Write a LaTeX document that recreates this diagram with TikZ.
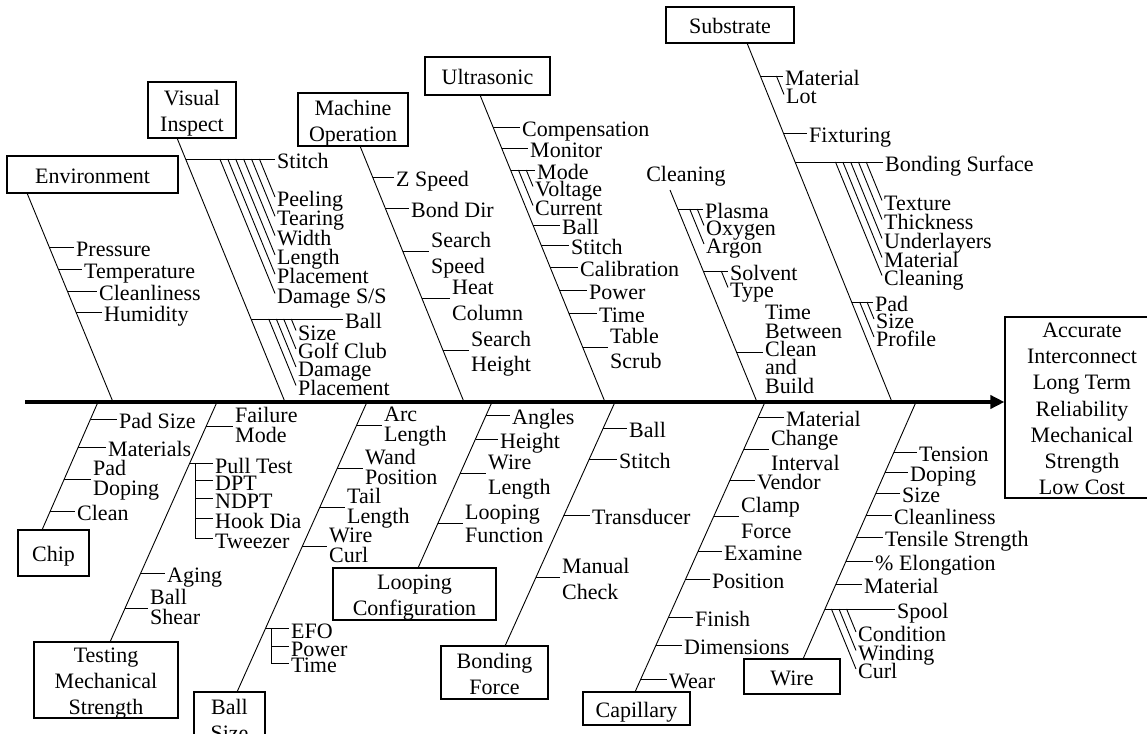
\documentclass[tikz,border=0pt]{standalone}
\usepackage{fontspec}
\setmainfont{Liberation Serif}
\usetikzlibrary{arrows.meta,calc}
\newcommand\brtick[2]{\draw[br] let \p1=(#1T), \p2=(#1B), \p3=(#2.west) in ({\x1+((\y3-(\y1))/(\y2-(\y1)))*(\x2-(\x1))},\y3) -- (\p3);}
\newcommand\brslant[2]{\draw[br] let \p1=(#1.west), \p2=(#2.west) in (\p1) -- ({\x1-0.41*(\y2-(\y1))},\y2);}
\begin{document}
\begin{tikzpicture}[x=1pt,y=-1pt,
  br/.style={line width=0.9pt},
  box/.style={draw, line width=1.1pt, inner sep=0pt, align=center, font={\fontsize{22pt}{26pt}\selectfont}, text height=17pt, text depth=0pt},
  lab/.style={anchor=west, inner xsep=2pt, inner ysep=0pt, font={\fontsize{22pt}{22pt}\selectfont}, text height=19pt, text depth=0pt},
  ml/.style 2 args={lab, align=left, font={\fontsize{22pt}{#1pt}\selectfont}, text height=#2pt},
]
\useasboundingbox (0,0) rectangle (1147,733);

% effect box and spine
\node[box, minimum width=154pt, minimum height=181pt, font={\fontsize{22pt}{26.3pt}\selectfont}, text height=174.8pt] (out) at (1082,407.5) {Accurate\\Interconnect\\Long Term\\Reliability\\Mechanical\\Strength\\Low Cost};
\coordinate (spL) at (25,402);
\draw[line width=4pt, -{Triangle[length=14pt,width=13pt]}] (spL) -- (spL -| out.west);

% ---------- top branches ----------
\node[box, minimum width=171pt, minimum height=37pt] (envbox) at (92.5,174.5) {Environment};
\coordinate (envT) at (27,193); \coordinate (envB) at (113,402);
\draw[br] (envT) -- (envB);

\node[box, minimum width=88pt, minimum height=56pt, text height=43pt] (visbox) at (192,110) {Visual\\Inspect};
\coordinate (visT) at (177,138); \coordinate (visB) at (285,402);
\draw[br] (visT) -- (visB);

\node[box, minimum width=110pt, minimum height=53pt, text height=43pt] (macbox) at (353,119.5) {Machine\\Operation};
\coordinate (macT) at (360,146); \coordinate (macB) at (464,402);
\draw[br] (macT) -- (macB);

\node[box, minimum width=125pt, minimum height=38pt] (ultbox) at (487.5,76) {Ultrasonic};
\coordinate (ultT) at (480,95); \coordinate (ultB) at (605,402);
\draw[br] (ultT) -- (ultB);

\node[box, draw=none] (clnbox) at (686,173) {Cleaning};
\coordinate (clnT) at (670,190); \coordinate (clnB) at (757,402);
\draw[br] (clnT) -- (clnB);

\node[box, minimum width=128pt, minimum height=36pt] (subbox) at (730,25) {Substrate};
\coordinate (subT) at (747,43); \coordinate (subB) at (892,402);
\draw[br] (subT) -- (subB);

% ---------- bottom branches ----------
\node[box, minimum width=71pt, minimum height=46pt] (chipbox) at (53.5,553) {Chip};
\coordinate (chipT) at (98,402); \coordinate (chipB) at (42,530);
\draw[br] (chipT) -- (chipB);

\node[box, minimum width=144pt, minimum height=76pt, text height=69pt] (testbox) at (106,680) {Testing\\Mechanical\\Strength};
\coordinate (testT) at (217,402); \coordinate (testB) at (110,642);
\draw[br] (testT) -- (testB);

\node[box, minimum width=71pt, minimum height=54pt, text height=43pt] (ballbox) at (229.5,719) {Ball\\Size};
\coordinate (ballT) at (367,402); \coordinate (ballB) at (237,692);
\draw[br] (ballT) -- (ballB);

\node[box, minimum width=163pt, minimum height=52pt, text height=43pt] (loopbox) at (414.5,594) {Looping\\Configuration};
\coordinate (loopT) at (492,402); \coordinate (loopB) at (418,568);
\draw[br] (loopT) -- (loopB);

\node[box, minimum width=107pt, minimum height=53pt, text height=43pt] (bondbox) at (494.5,672.5) {Bonding\\Force};
\coordinate (bondT) at (615,402); \coordinate (bondB) at (505,646);
\draw[br] (bondT) -- (bondB);

\node[box, minimum width=107pt, minimum height=33pt] (capbox) at (636.5,708.5) {Capillary};
\coordinate (capT) at (765,402); \coordinate (capB) at (635,692);
\draw[br] (capT) -- (capB);

\node[box, minimum width=96pt, minimum height=35pt] (wirebox) at (792,676.5) {Wire};
\coordinate (wireT) at (916,402); \coordinate (wireB) at (803,659);
\draw[br] (wireT) -- (wireB);

% ---------- Environment ----------
\node[lab] (e1) at (74,247) {Pressure};
\node[lab] (e2) at (82,269) {Temperature};
\node[lab] (e3) at (97,291) {Cleanliness};
\node[lab] (e4) at (102,312) {Humidity};
\foreach \q in {e1,e2,e3,e4} {\brtick{env}{\q}}

% ---------- Visual Inspect ----------
\node[lab] (v0) at (275,159) {Stitch};
\node[lab] (v1) at (275,197) {Peeling};
\node[lab] (v2) at (275,216.3) {Tearing};
\node[lab] (v3) at (275,235.6) {Width};
\node[lab] (v4) at (275,254.9) {Length};
\node[lab] (v5) at (275,274.2) {Placement};
\node[lab] (v6) at (275,293.5) {Damage S/S};
\brtick{vis}{v0}
\foreach \q in {v1,v2,v3,v4,v5,v6} {\brslant{\q}{v0}}
\node[lab] (v7) at (343,319) {Ball};
\node[lab] (v8) at (296,330.5) {Size};
\node[lab] (v9) at (296,349) {Golf Club};
\node[lab] (v10) at (296,367) {Damage};
\node[lab] (v11) at (296,385.5) {Placement};
\brtick{vis}{v7}
\foreach \q in {v8,v9,v10,v11} {\brslant{\q}{v7}}

% ---------- Machine Operation ----------
\node[lab] (m1) at (394,177) {Z Speed};
\node[lab] (m2) at (409,208) {Bond Dir};
\node[ml={26}{44}] (m3) at (429,251) {Search\\Speed};
\node[ml={26}{44}] (m4) at (450,298) {Heat\\Column};
\node[ml={25}{42}] (m5) at (469,350) {Search\\Height};
\foreach \q in {m1,m2,m3,m4,m5} {\brtick{mac}{\q}}

% ---------- Ultrasonic ----------
\node[lab] (u1) at (520,127) {Compensation};
\node[lab] (u2) at (528,148) {Monitor};
\node[lab] (u3) at (535,170) {Mode};
\node[lab] (u4) at (533,186.5) {Voltage};
\node[lab] (u5) at (533,205.5) {Current};
\node[lab] (u6) at (560,225) {Ball};
\node[lab] (u7) at (569,245) {Stitch};
\node[lab] (u8) at (578,267) {Calibration};
\node[lab] (u9) at (587,290) {Power};
\node[lab] (u10) at (597,313) {Time};
\node[ml={25}{42}] (u11) at (608,347) {Table\\Scrub};
\foreach \q in {u1,u2,u3,u6,u7,u8,u9,u10,u11} {\brtick{ult}{\q}}
\foreach \q in {u4,u5} {\brslant{\q}{u3}}

% ---------- Cleaning ----------
\node[lab] (c1) at (703,209) {Plasma};
\node[lab] (c2) at (704,225.5) {Oxygen};
\node[lab] (c3) at (704,244) {Argon};
\node[lab] (c4) at (728,271) {Solvent};
\node[lab] (c5) at (728,287.5) {Type};
\node[ml={18.3}{82}] (c6) at (763,352) {Time\\Between\\Clean\\and\\Build};
\foreach \q in {c1,c4,c6} {\brtick{cln}{\q}}
\foreach \q in {c2,c3} {\brslant{\q}{c1}}
\brslant{c5}{c4}

% ---------- Substrate ----------
\node[lab] (s1) at (783,76) {Material};
\node[lab] (s2) at (784,94.5) {Lot};
\node[lab] (s3) at (807,133) {Fixturing};
\node[lab] (s4) at (883,162) {Bonding Surface};
\node[lab] (s5) at (882,200.5) {Texture};
\node[lab] (s6) at (882,219.5) {Thickness};
\node[lab] (s7) at (882,238.5) {Underlayers};
\node[lab] (s8) at (882,257.5) {Material};
\node[lab] (s9) at (882,275.5) {Cleaning};
\node[lab] (s10) at (873,302) {Pad};
\node[lab] (s11) at (874,319) {Size};
\node[lab] (s12) at (874,337) {Profile};
\foreach \q in {s1,s3,s4,s10} {\brtick{sub}{\q}}
\brslant{s2}{s1}
\foreach \q in {s5,s6,s7,s8,s9} {\brslant{\q}{s4}}
\foreach \q in {s11,s12} {\brslant{\q}{s10}}

% ---------- Chip ----------
\node[lab] (h1) at (117,419) {Pad Size};
\node[lab] (h2) at (106,447) {Materials};
\node[ml={20}{32}] (h3) at (91,479) {Pad\\Doping};
\node[lab] (h4) at (75,511) {Clean};
\foreach \q in {h1,h2,h3,h4} {\brtick{chip}{\q}}

% ---------- Testing ----------
\node[ml={20}{32}] (t1) at (233,426) {Failure\\Mode};
\node[lab] (t2) at (213,463.8) {Pull Test};
\node[lab] (t3) at (213,480.5) {DPT};
\node[lab] (t4) at (213,498.8) {NDPT};
\node[lab] (t5) at (213,518.8) {Hook Dia};
\node[lab] (t6) at (213,538.8) {Tweezer};
\node[lab] (t7) at (165,573) {Aging};
\node[ml={20}{32}] (t8) at (148,608) {Ball\\Shear};
\foreach \q in {t1,t2,t7,t8} {\brtick{test}{\q}}
\coordinate (tv) at (195,0);
\draw[br] (tv |- t2.west) -- (tv |- t6.west);
\foreach \q in {t3,t4,t5,t6} {\draw[br] (tv |- \q.west) -- (\q.west);}

% ---------- Ball Size ----------
\node[ml={20}{32}] (b1) at (382,425) {Arc\\Length};
\node[ml={20}{32}] (b2) at (363,468) {Wand\\Position};
\node[ml={20}{32}] (b3) at (345,507) {Tail\\Length};
\node[ml={20}{32}] (b4) at (327,546) {Wire\\Curl};
\node[lab] (b5) at (289,628.8) {EFO};
\node[lab] (b6) at (289,646.5) {Power};
\node[lab] (b7) at (289,663.2) {Time};
\foreach \q in {b1,b2,b3,b4,b5} {\brtick{ball}{\q}}
\coordinate (bv) at (271,0);
\draw[br] (bv |- b5.west) -- (bv |- b7.west);
\foreach \q in {b6,b7} {\draw[br] (bv |- \q.west) -- (\q.west);}

% ---------- Looping ----------
\node[lab] (l1) at (510,415) {Angles};
\node[lab] (l2) at (498,439) {Height};
\node[ml={25.6}{43.2}] (l3) at (486,473) {Wire\\Length};
\node[ml={23}{38}] (l4) at (463,523) {Looping\\Function};
\foreach \q in {l1,l2,l3,l4} {\brtick{loop}{\q}}

% ---------- Bonding Force ----------
\node[lab] (f1) at (627,428) {Ball};
\node[lab] (f2) at (617,459) {Stitch};
\node[lab] (f3) at (590,515) {Transducer};
\node[ml={26.7}{45.4}] (f4) at (560,577) {Manual\\Check};
\foreach \q in {f1,f2,f3,f4} {\brtick{bond}{\q}}

% ---------- Capillary ----------
\node[lab] (k1) at (784,417) {Material};
\node[ml={25}{42}] (k2) at (769,449) {Change\\Interval};
\node[lab] (k3) at (755,480) {Vendor};
\node[ml={26.7}{45.4}] (k4) at (739,516) {Clamp\\Force};
\node[lab] (k5) at (722,551) {Examine};
\node[lab] (k6) at (710,579) {Position};
\node[lab] (k7) at (693,617) {Finish};
\node[lab] (k8) at (682,645) {Dimensions};
\node[lab] (k9) at (667,679) {Wear};
\foreach \q in {k1,k2,k3,k4,k5,k6,k7,k8,k9} {\brtick{cap}{\q}}

% ---------- Wire ----------
\node[lab] (w1) at (917,452) {Tension};
\node[lab] (w2) at (908,472) {Doping};
\node[lab] (w3) at (900,493) {Size};
\node[lab] (w4) at (892,515) {Cleanliness};
\node[lab] (w5) at (883,537) {Tensile Strength};
\node[lab] (w6) at (873,561) {\% Elongation};
\node[lab] (w7) at (862,584) {Material};
\node[lab] (w8) at (895,609) {Spool};
\node[lab] (w9) at (856,632) {Condition};
\node[lab] (w10) at (856,650.5) {Winding};
\node[lab] (w11) at (856,669) {Curl};
\foreach \q in {w1,w2,w3,w4,w5,w6,w7,w8} {\brtick{wire}{\q}}
\foreach \q in {w9,w10,w11} {\brslant{\q}{w8}}
\end{tikzpicture}
\end{document}
